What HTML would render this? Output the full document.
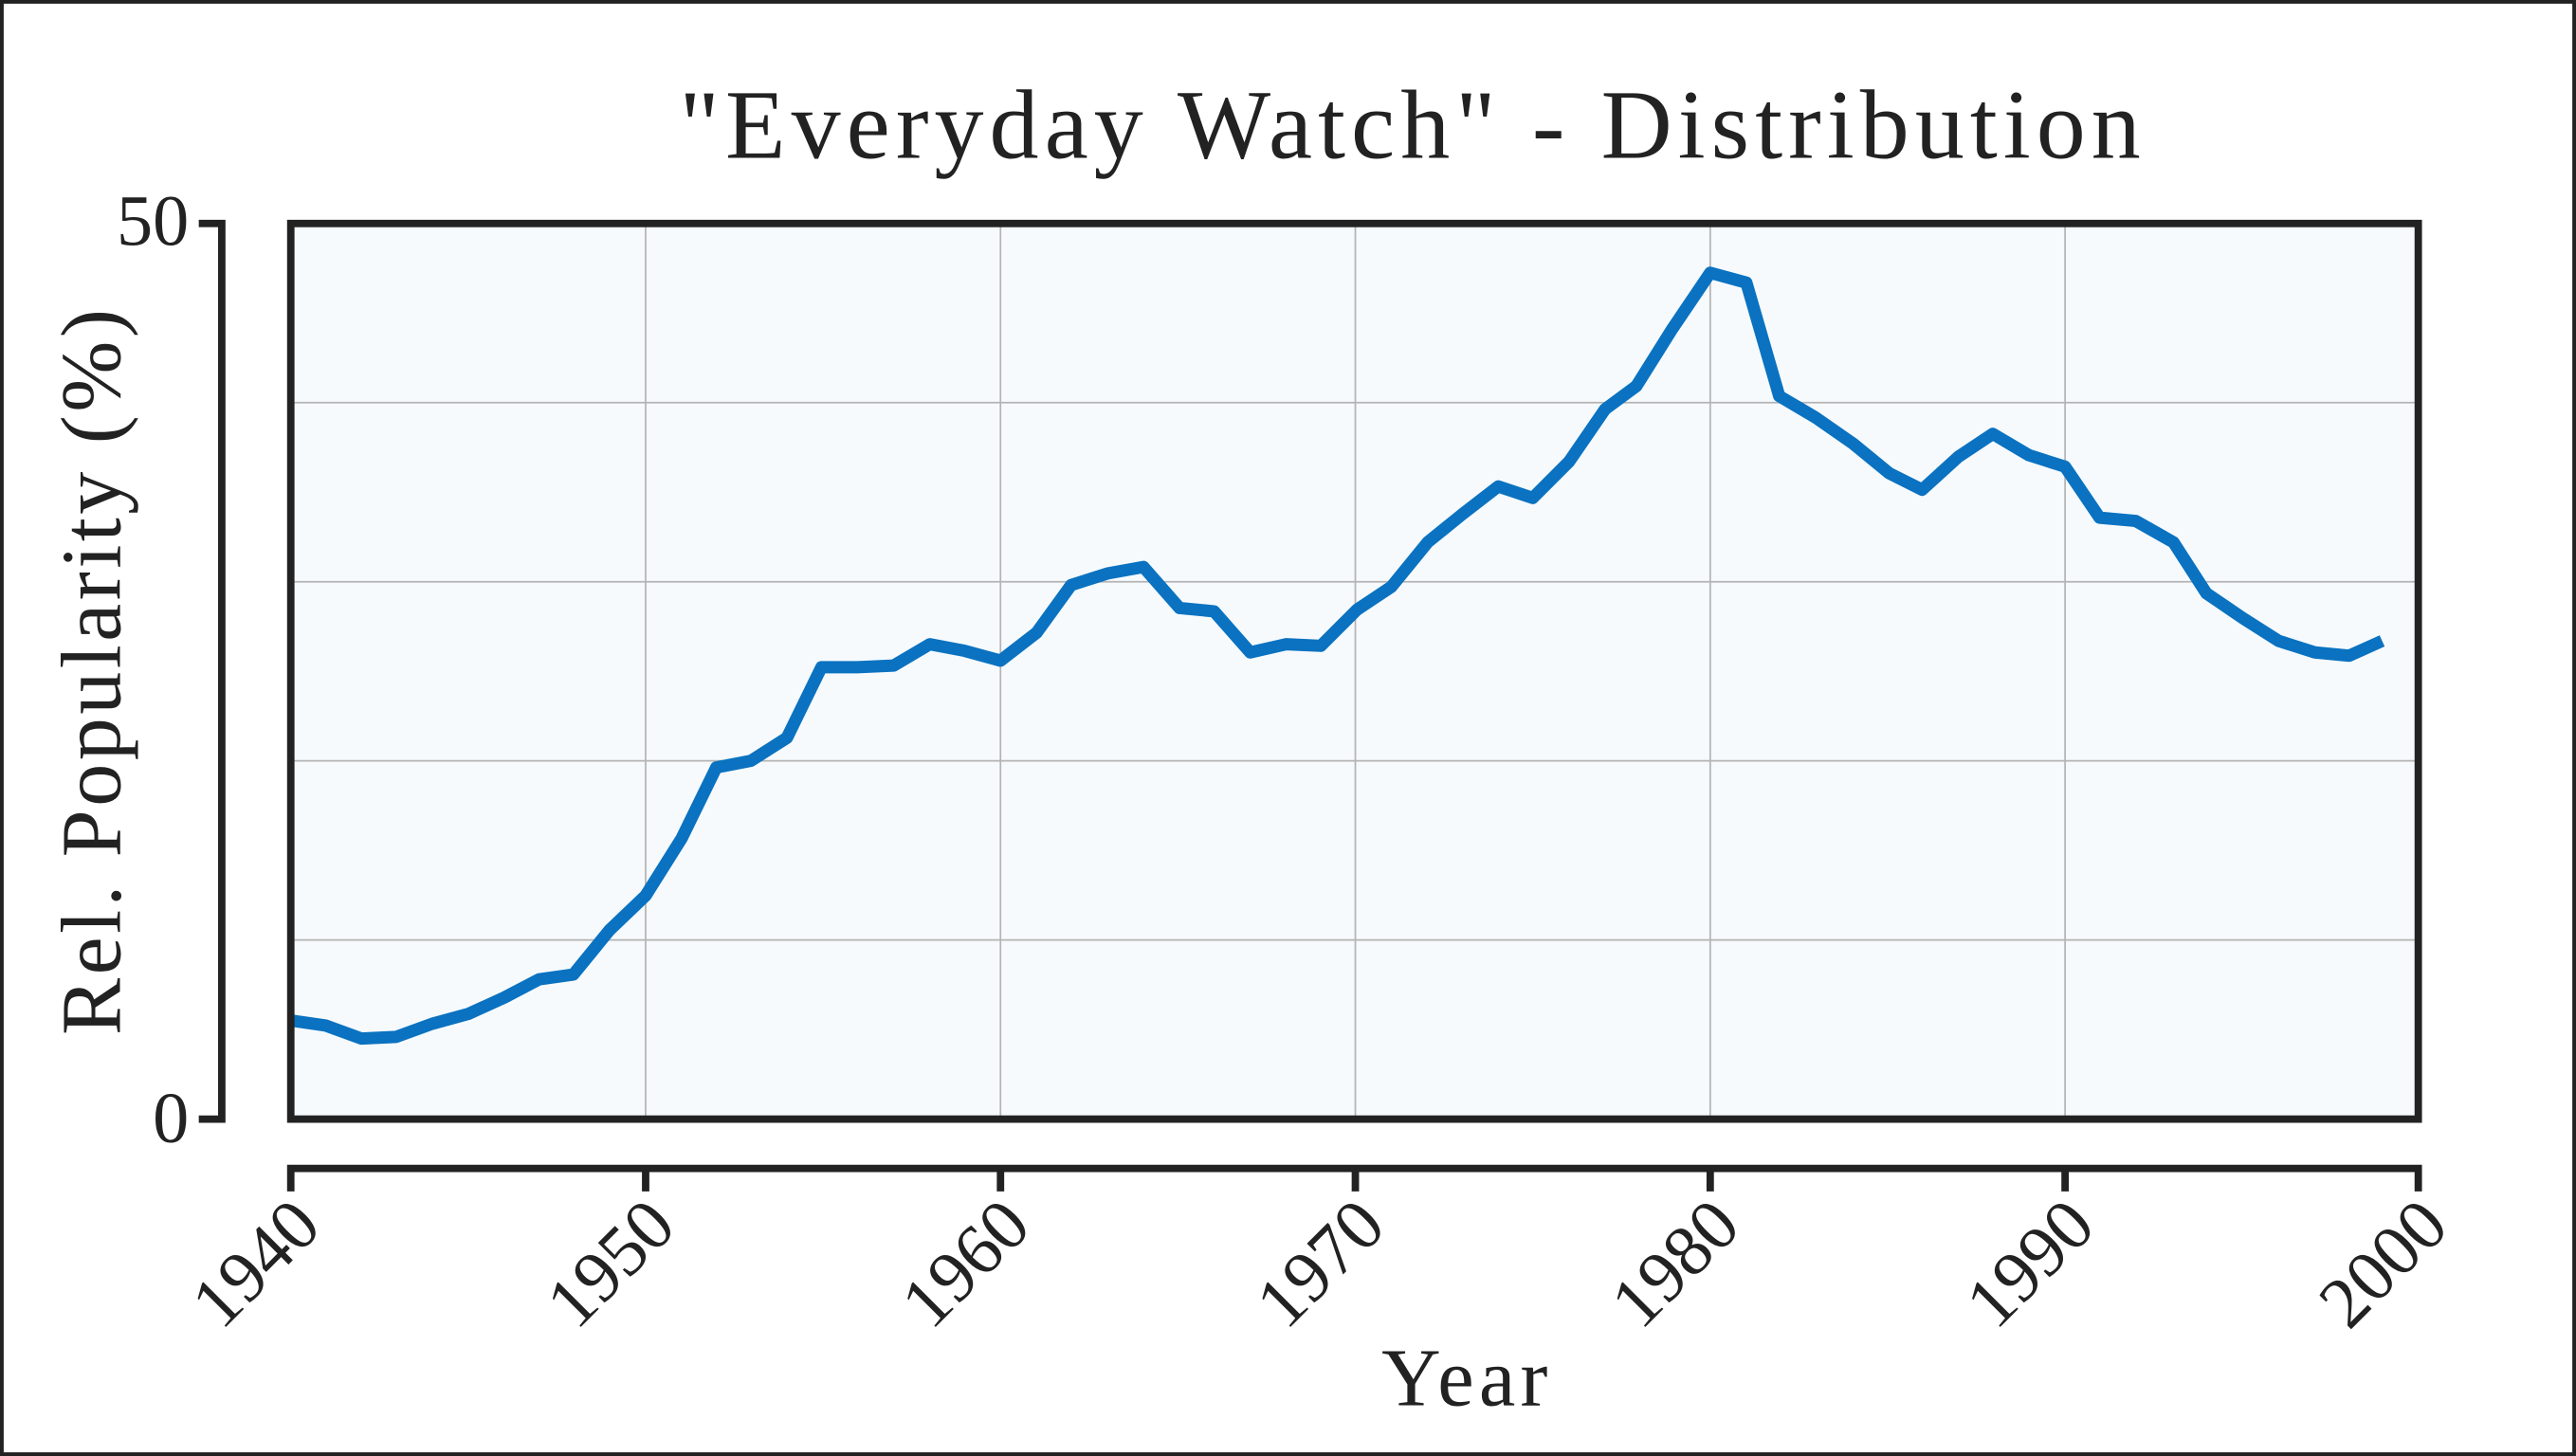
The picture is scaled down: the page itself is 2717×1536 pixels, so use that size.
<!DOCTYPE html>
<html><head><meta charset="utf-8"><style>html,body{margin:0;padding:0;background:#fff}svg{display:block}</style></head>
<body>
<svg width="2717" height="1536" viewBox="0 0 1568 886" preserveAspectRatio="none" xmlns="http://www.w3.org/2000/svg" font-family="'Liberation Serif', serif" fill="#222">
<rect x="1" y="1" width="1566" height="884" fill="#fff" stroke="#222" stroke-width="2.5"/>
<text x="860" y="96" font-size="60" text-anchor="middle" letter-spacing="3.5">"Everyday Watch" - Distribution</text>
<rect x="177" y="136" width="1295" height="545" fill="#f6fafd"/>
<g stroke="#b4b4b4" stroke-width="1">
<line x1="393" y1="136" x2="393" y2="681"/><line x1="609" y1="136" x2="609" y2="681"/><line x1="825" y1="136" x2="825" y2="681"/><line x1="1041" y1="136" x2="1041" y2="681"/><line x1="1257" y1="136" x2="1257" y2="681"/>
<line x1="177" y1="245" x2="1472" y2="245"/><line x1="177" y1="354" x2="1472" y2="354"/><line x1="177" y1="463" x2="1472" y2="463"/><line x1="177" y1="572" x2="1472" y2="572"/>
</g>
<polyline fill="none" stroke="#0a72c0" stroke-width="7.5" stroke-linejoin="round" points="177,621 198,624 220,632 241,631 263,623 285,617 307,607 328,596 349,593 371,566 393,545 415,510 436,467 457,463 479,449 500,406 522,406 544,405 566,392 587,396 609,402 631,385 652,356 674,349 696,345 718,370 739,372 761,397 783,392 804,393 826,371 847,357 869,330 890,313 912,296 933,303 955,281 977,249 996,235 1018,200 1041,166 1063,172 1083,241 1105,254 1128,270 1150,288 1170,298 1192,278 1213,264 1235,277 1257,284 1278,315 1300,317 1323,330 1343,361 1365,376 1387,390 1409,397 1430,399 1450,390"/>
<rect x="177" y="136" width="1295" height="545" fill="none" stroke="#222" stroke-width="4.5"/>
<path d="M121,136 H135 V681 H121" fill="none" stroke="#222" stroke-width="4.5"/>
<path d="M177,725 V711 H1472 V725 M393,711 V725 M609,711 V725 M825,711 V725 M1041,711 V725 M1257,711 V725" fill="none" stroke="#222" stroke-width="4.5"/>
<text x="115" y="149" font-size="44" text-anchor="end">50</text>
<text x="115" y="695" font-size="44" text-anchor="end">0</text>
<g font-size="44" text-anchor="end">
<text transform="translate(197,748) rotate(-45)">1940</text>
<text transform="translate(413,748) rotate(-45)">1950</text>
<text transform="translate(629,748) rotate(-45)">1960</text>
<text transform="translate(845,748) rotate(-45)">1970</text>
<text transform="translate(1061,748) rotate(-45)">1980</text>
<text transform="translate(1277,748) rotate(-45)">1990</text>
<text transform="translate(1492,748) rotate(-45)">2000</text>
</g>
<text x="893" y="855" font-size="50" text-anchor="middle" letter-spacing="3">Year</text>
<text transform="translate(73,408) rotate(-90)" font-size="52" text-anchor="middle" letter-spacing="2">Rel. Popularity (%)</text>
</svg>
</body></html>
